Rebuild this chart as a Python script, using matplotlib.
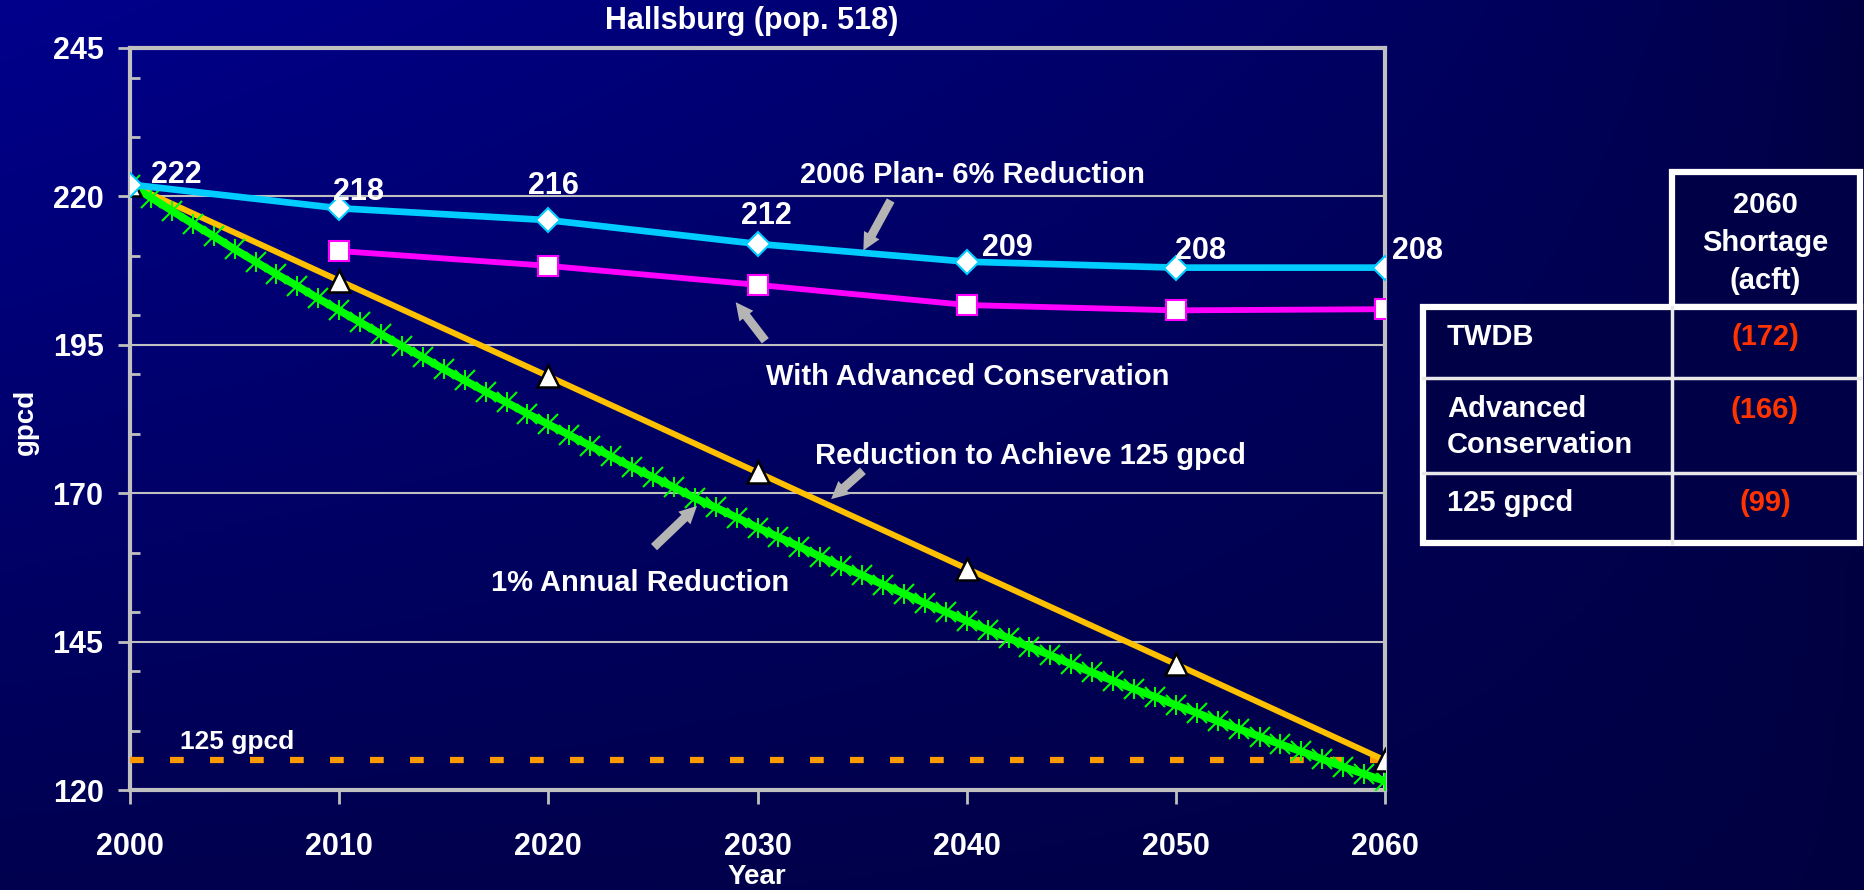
import numpy as np
import matplotlib
matplotlib.use('Agg')
import matplotlib.pyplot as plt
from matplotlib.patches import Rectangle

plt.rcParams['font.family'] = ['Liberation Sans', 'DejaVu Sans']
plt.rcParams['font.weight'] = 'bold'

# datos
decades = [2000, 2010, 2020, 2030, 2040, 2050, 2060]
plan2006 = [222, 218, 216, 212, 209, 208, 208]
plan_labels = ['222', '218', '216', '212', '209', '208', '208']
adv_years = [2010, 2020, 2030, 2040, 2050, 2060]
adv_cons = [210.8, 208.3, 205.1, 201.7, 200.8, 201.0]
to125 = [222, 205.8, 189.7, 173.5, 157.3, 141.2, 125]
annual_years = list(range(2000, 2061))
annual = [222.0, 219.8, 217.6, 215.4, 213.3, 211.1, 209.0, 206.9, 204.9, 202.8,
          200.8, 198.8, 196.8, 194.8, 192.9, 190.9, 189.0, 187.1, 185.3, 183.4,
          181.6, 179.8, 178.0, 176.2, 174.4, 172.7, 171.0, 169.2, 167.6, 165.9,
          164.2, 162.6, 161.0, 159.3, 157.7, 156.2, 154.6, 153.1, 151.5, 150.0,
          148.5, 147.0, 145.6, 144.1, 142.7, 141.2, 139.8, 138.4, 137.0, 135.7,
          134.3, 133.0, 131.6, 130.3, 129.0, 127.7, 126.5, 125.2, 123.9, 122.7,
          121.5]
target = 125
yticks = [120, 145, 170, 195, 220, 245]

table_rows = ['TWDB', 'Advanced\nConservation', '125 gpcd']
shortage = ['(172)', '(166)', '(99)']

W, H = 1865, 890
fig = plt.figure(figsize=(W / 100, H / 100), dpi=100)

# fondo degradado
bg = fig.add_axes([0, 0, 1, 1], zorder=-5)
gx, gy = np.meshgrid(np.linspace(0, 1, 400), np.linspace(0, 1, 200))
b = 64 + 76 * (1 - gx) ** 0.6 * (1 - 0.8 * gy)
img = np.zeros((200, 400, 3))
img[..., 2] = b / 255
bg.imshow(img, aspect='auto', extent=[0, 1, 1, 0])
bg.set_xlim(0, 1)
bg.set_ylim(1, 0)
bg.axis('off')

ax = fig.add_axes([130 / W, 1 - 790 / H, 1255 / W, 742 / H])
ax.patch.set_alpha(0)
ax.set_xlim(2000, 2060)
ax.set_ylim(120, 245)

grey = '#C0C0C0'
for s in ax.spines.values():
    s.set_color(grey)
    s.set_linewidth(3)
    s.set_zorder(1)
ax.set_yticks(yticks)
ax.set_yticks(range(130, 245, 10), minor=True)
ax.set_xticks(decades)
ax.yaxis.grid(True, color=grey, linewidth=1.5, zorder=0)
ax.tick_params(axis='y', which='major', direction='out', length=9, width=2,
               color=grey, labelcolor='white', labelsize=22, pad=10)
ax.tick_params(axis='y', which='minor', direction='in', length=7, width=2,
               color=grey)
ax.tick_params(axis='x', which='major', direction='out', length=10, width=2,
               color=grey, labelcolor='white', labelsize=22, pad=20)
for t in ax.get_xticklabels() + ax.get_yticklabels():
    t.set_fontweight('bold')

# linea 125 gpcd
ax.plot([2000, 2060], [target, target], color='#FF9900', lw=4.5,
        dashes=(2.2, 4.2), zorder=2)
ax.text(2002.4, target + 1.1, '125 gpcd', color='white', fontsize=19,
        fontweight='bold', va='bottom', ha='left')

ax.plot(decades, to125, color='#FFC000', lw=4.3, zorder=3)
ax.plot(annual_years, annual, color='#00FF00', lw=5.5, marker='x', ms=14,
        mew=1.5, zorder=4)
ax.plot(annual_years, annual, color='#00FF00', ls='none', marker='|', ms=14,
        mew=1.5, zorder=4)
ax.plot(decades, to125, ls='none', marker='^', ms=16, mfc='white',
        mec='black', mew=1.8, zorder=5)
ax.plot(adv_years, adv_cons, color='#FF00FF', lw=4.2, marker='s', ms=15,
        mfc='white', mec='#FF00FF', mew=1.5, zorder=5)
ax.plot(decades, plan2006, color='#00CCFF', lw=4.8, marker='D', ms=12,
        mfc='white', mec='#00CCFF', mew=1.5, zorder=6)

offs = [(21, 10), (-6, 16), (-20, 34), (-16, 28), (15, 14), (-1, 17), (7, 17)]
for yr, v, lab, (dx, dy) in zip(decades, plan2006, plan_labels, offs):
    ax.annotate(lab, (yr, v), xytext=(dx, dy), textcoords='offset pixels',
                color='white', fontsize=22, fontweight='bold',
                ha='left', va='center', zorder=7)

# capa de texto en pixeles
ov = fig.add_axes([0, 0, 1, 1], zorder=10)
ov.set_xlim(0, W)
ov.set_ylim(H, 0)
ov.axis('off')

ov.text(752, 21, 'Hallsburg (pop. 518)', color='white', fontsize=22,
        fontweight='bold', ha='center', va='center')
ov.text(757, 877, 'Year', color='white', fontsize=20, fontweight='bold',
        ha='center', va='center')
ov.text(26, 422, 'gpcd', color='white', fontsize=20, fontweight='bold',
        ha='center', va='center', rotation=90)

notes = [('2006 Plan- 6% Reduction', 972, 175, (892, 198), (862, 253)),
         ('With Advanced Conservation', 968, 377, (767, 343), (734, 300)),
         ('Reduction to Achieve 125 gpcd', 1030, 456, (865, 469), (829, 501)),
         ('1% Annual Reduction', 640, 583, (652, 549), (699, 504))]
for txt, tx, ty, tail, head in notes:
    ov.text(tx, ty, txt, color='white', fontsize=21, fontweight='bold',
            ha='center', va='center')
    ov.annotate('', xy=head, xytext=tail,
                arrowprops=dict(arrowstyle='simple,head_length=0.9,head_width=0.9,tail_width=0.45',
                                color='#B4B4B4', lw=0, mutation_scale=14))

# tabla
cell = '#000046'
x0, xm, x1 = 1423, 1672, 1860
ys = [307, 378, 473, 543]
ov.add_patch(Rectangle((xm, 172), x1 - xm, ys[0] - 172, facecolor=cell,
                       edgecolor='white', lw=4.5))
ov.add_patch(Rectangle((x0, ys[0]), x1 - x0, ys[-1] - ys[0], facecolor=cell,
                       edgecolor='white', lw=4.5))
for yy in ys[1:-1]:
    ov.plot([x0, x1], [yy, yy], color='#E8E8E8', lw=2.5)
ov.plot([xm, xm], [ys[0], ys[-1]], color='#E8E8E8', lw=2.5)
ov.text(1765, 243, '2060\nShortage\n(acft)', color='white', fontsize=21,
        fontweight='bold', ha='center', va='center', linespacing=1.45)
row_y = [337, 427, 503]
num_y = [337, 410, 503]
for lab, val, ry, ny in zip(table_rows, shortage, row_y, num_y):
    ov.text(1447, ry, lab, color='white', fontsize=21, fontweight='bold',
            ha='left', va='center', linespacing=1.4)
    ov.text(1765, ny, val, color='#FF3300', fontsize=21, fontweight='bold',
            ha='center', va='center')

fig.savefig('out.png', dpi=100)
